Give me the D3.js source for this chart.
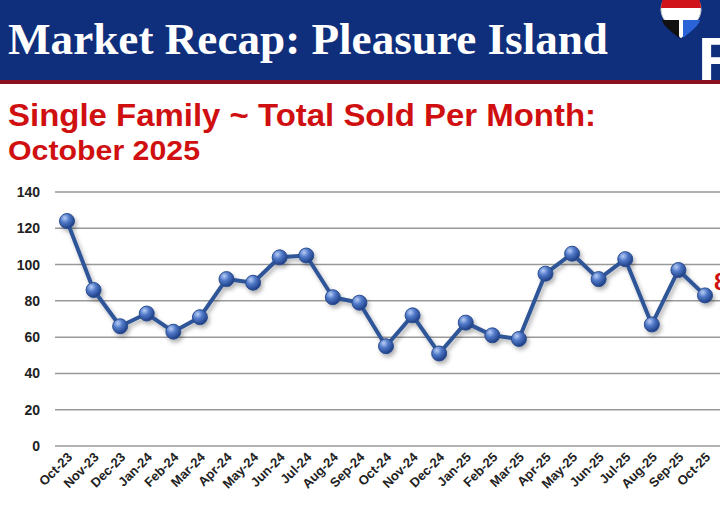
<!DOCTYPE html>
<html><head><meta charset="utf-8">
<script src="https://cdn.jsdelivr.net/npm/d3@7"></script>
<style>body{margin:0;background:#fff;overflow:hidden}</style>
</head><body>
<svg id="c" width="720" height="512"></svg>
<script>
const months = ["Oct-23","Nov-23","Dec-23","Jan-24","Feb-24","Mar-24","Apr-24","May-24","Jun-24","Jul-24","Aug-24","Sep-24","Oct-24","Nov-24","Dec-24","Jan-25","Feb-25","Mar-25","Apr-25","May-25","Jun-25","Jul-25","Aug-25","Sep-25","Oct-25"];
const sold = [124,86,66,73,63,71,92,90,104,105,82,79,55,72,51,68,61,59,95,106,92,103,67,97,83];
const yTicks = [0,20,40,60,80,100,120,140];

const svg = d3.select("#c");
const defs = svg.append("defs");
const g1 = defs.append("radialGradient").attr("id","ball").attr("cx","35%").attr("cy","30%").attr("r","70%");
g1.append("stop").attr("offset","0%").attr("stop-color","#b8cdf5");
g1.append("stop").attr("offset","45%").attr("stop-color","#4f78c8");
g1.append("stop").attr("offset","100%").attr("stop-color","#1f3f86");
const sh = defs.append("filter").attr("id","sh").attr("x","-20%").attr("y","-20%").attr("width","140%").attr("height","140%");
sh.append("feDropShadow").attr("dx",2).attr("dy",3).attr("stdDeviation",2).attr("flood-color","#000").attr("flood-opacity",0.3);

// header
svg.append("rect").attr("x",0).attr("y",0).attr("width",720).attr("height",82).attr("fill","#0f2f7c");
svg.append("rect").attr("x",0).attr("y",80).attr("width",720).attr("height",4).attr("fill","#8a1020");
svg.append("text").attr("x",8).attr("y",54).attr("fill","#fff")
  .attr("font-family","Liberation Serif, serif").attr("font-weight","bold").attr("font-size",44)
  .attr("textLength",600).attr("lengthAdjust","spacingAndGlyphs")
  .text("Market Recap: Pleasure Island");
// balloon logo
const lg = svg.append("g").attr("transform","translate(3,0)");
lg.append("path").attr("d","M658,10 a20,20 0 0 1 40,0 c0,10 -12,20 -20,28 c-8,-8 -20,-18 -20,-28z").attr("fill","#fff").attr("stroke","#ccc");
lg.append("path").attr("d","M658,8 a20,20 0 0 1 40,0 z").attr("fill","#d0121b");
lg.append("path").attr("d","M659,20 h17 v18 c-7,-6 -16,-12 -17,-18z").attr("fill","#111");
lg.append("path").attr("d","M680,20 h17 c-1,6 -10,12 -17,18z").attr("fill","#2a62d8");
svg.append("text").attr("x",698).attr("y",80).attr("fill","#fff").attr("font-family","Liberation Sans, sans-serif")
  .attr("font-weight","bold").attr("font-size",62).text("R");

// subtitle
svg.append("text").attr("x",8).attr("y",126).attr("fill","#d01010").attr("font-family","Liberation Sans, Arial, sans-serif")
  .attr("font-weight","bold").attr("font-size",32).attr("textLength",588).attr("lengthAdjust","spacingAndGlyphs")
  .text("Single Family ~ Total Sold Per Month:");
svg.append("text").attr("x",8).attr("y",160).attr("fill","#d01010").attr("font-family","Liberation Sans, Arial, sans-serif")
  .attr("font-weight","bold").attr("font-size",28).attr("textLength",192).attr("lengthAdjust","spacingAndGlyphs")
  .text("October 2025");

const x = d3.scalePoint().domain(months).range([67,705]);
const y = d3.scaleLinear().domain([0,140]).range([446,192]);

svg.append("g").selectAll("line").data(yTicks).enter().append("line")
  .attr("x1",55).attr("x2",720).attr("y1",d=>y(d)).attr("y2",d=>y(d))
  .attr("stroke","#999").attr("stroke-width",1.5);
svg.append("g").selectAll("text").data(yTicks).enter().append("text")
  .attr("x",40).attr("y",d=>y(d)+5).attr("text-anchor","end")
  .attr("font-family","Liberation Sans, Arial, sans-serif").attr("font-weight","bold").attr("font-size",14).attr("fill","#222")
  .text(d=>d);

svg.append("g").selectAll("text").data(months).enter().append("text")
  .attr("transform",d=>`translate(${x(d)+6},${458}) rotate(-45)`).attr("text-anchor","end")
  .attr("font-family","Liberation Sans, Arial, sans-serif").attr("font-weight","bold").attr("font-size",13).attr("fill","#222")
  .text(d=>d);

const line = d3.line().x((d,i)=>x(months[i])).y(d=>y(d));
const plot = svg.append("g").attr("filter","url(#sh)");
plot.append("path").datum(sold).attr("d",line).attr("fill","none").attr("stroke","#2f5597").attr("stroke-width",4).attr("stroke-linejoin","round");
plot.selectAll("circle").data(sold).enter().append("circle")
  .attr("cx",(d,i)=>x(months[i])).attr("cy",d=>y(d)).attr("r",7.5)
  .attr("fill","url(#ball)").attr("stroke","#2a4d8f").attr("stroke-width",1);

// data label, cut off at the right edge as in the source
svg.append("text").attr("x",714).attr("y",y(sold[sold.length-1])-5).attr("fill","#d01010")
  .attr("font-family","Liberation Sans, Arial, sans-serif").attr("font-weight","bold").attr("font-size",24).text(sold[sold.length-1]);
</script>
</body></html>
